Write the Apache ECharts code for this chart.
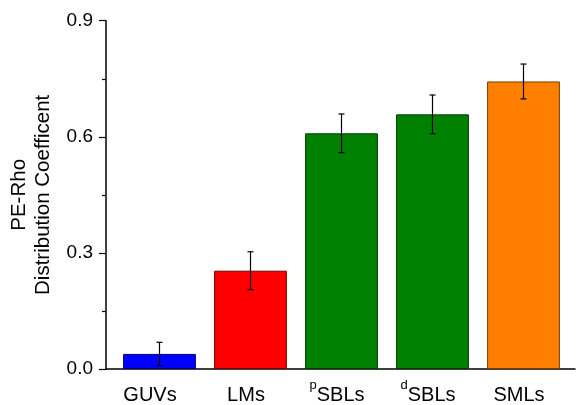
<!DOCTYPE html>
<html>
<head>
<meta charset="utf-8">
<script src="https://cdn.jsdelivr.net/npm/echarts@6/dist/echarts.min.js"></script>
<style>html,body{margin:0;padding:0;background:#fff}#c{width:576px;height:405px}</style>
</head>
<body>
<div id="c"></div>
<script>
const categories = ['GUVs', 'LMs', 'pSBLs', 'dSBLs', 'SMLs'];
const labelText = ['{g|GUVs}', '{m|LMs}', '{sup|p}{m|SBLs}', '{sup|d}{m|SBLs}', '{m|SMLs}'];
const values = [0.039, 0.254, 0.609, 0.658, 0.743];
const errors = [0.030, 0.049, 0.050, 0.050, 0.045];
const colors = ['#0000ff', '#ff0000', '#008000', '#008000', '#ff8000'];
const borders = ['#00007a', '#7a0000', '#003a00', '#003a00', '#7a3d00'];

const chart = echarts.init(document.getElementById('c'), null, {renderer: 'canvas'});
const FONT = 'Liberation Sans, Arial, Helvetica, sans-serif';
chart.setOption({
  animation: false,
  backgroundColor: '#fff',
  grid: [
    {left: 114, right: 7, top: 20.7, bottom: 36, containLabel: false, outerBoundsMode: 'none'},
    {left: 106, right: 1, top: 20.7, bottom: 36, containLabel: false, outerBoundsMode: 'none'}
  ],
  xAxis: [{
    type: 'category', gridIndex: 0, data: categories,
    axisLine: {show: false},
    axisTick: {show: false},
    axisLabel: {
      interval: 0, hideOverlap: false,
      color: '#000', fontSize: 20, fontFamily: FONT, margin: 11, lineHeight: 30,
      padding: [0, 9, 0, 0],
      formatter: (v, i) => labelText[i],
      rich: {
        g: {fontSize: 20, fontFamily: FONT, color: '#000', lineHeight: 30, padding: [0, 10, 0, 0]},
        sup: {fontSize: 13, fontFamily: FONT, color: '#000', lineHeight: 10, padding: [0, 0, 20, 0]},
        m: {fontSize: 20, fontFamily: FONT, color: '#000', lineHeight: 30}
      }
    }
  }, {
    type: 'value', gridIndex: 1, min: 0, max: 1,
    axisLine: {show: true, lineStyle: {color: '#000', width: 1.5}},
    axisTick: {show: false}, axisLabel: {show: false}, splitLine: {show: false}
  }],
  yAxis: [{
    type: 'value', gridIndex: 0, min: 0, max: 0.9, interval: 0.3, offset: 8,
    axisLine: {show: true, lineStyle: {color: '#000', width: 1.5}},
    axisTick: {show: true, inside: false, length: 7, lineStyle: {color: '#000', width: 1.2}},
    minorTick: {show: true, splitNumber: 2, length: 4, lineStyle: {color: '#000', width: 1.2}},
    splitLine: {show: false},
    axisLabel: {color: '#000', fontSize: 19, fontFamily: FONT, margin: 13,
      formatter: v => v.toFixed(1)},
    name: 'PE-Rho\nDistribution Coefficent',
    nameLocation: 'middle', nameRotate: 90, nameGap: 50,
    nameTextStyle: {color: '#000', fontSize: 20.5, fontFamily: FONT, lineHeight: 24}
  }, {
    type: 'value', gridIndex: 1, show: false
  }],
  series: [{
    type: 'bar', xAxisIndex: 0, yAxisIndex: 0,
    barWidth: '80%',
    data: values.map((v, i) => ({value: v, itemStyle: {color: colors[i], borderColor: borders[i], borderWidth: 1}}))
  }, {
    type: 'custom', xAxisIndex: 0, yAxisIndex: 0,
    data: values.map((v, i) => [i, v - errors[i], v + errors[i]]),
    renderItem: function (params, api) {
      const lo = api.coord([api.value(0), api.value(1)]);
      const hi = api.coord([api.value(0), api.value(2)]);
      const w = 3;
      const st = {stroke: '#000', lineWidth: 1.2};
      return {type: 'group', children: [
        {type: 'line', shape: {x1: lo[0], y1: lo[1], x2: hi[0], y2: hi[1]}, style: st},
        {type: 'line', shape: {x1: lo[0] - w, y1: lo[1], x2: lo[0] + w, y2: lo[1]}, style: st},
        {type: 'line', shape: {x1: hi[0] - w, y1: hi[1], x2: hi[0] + w, y2: hi[1]}, style: st}
      ]};
    },
    z: 10
  }]
});
</script>
</body>
</html>
